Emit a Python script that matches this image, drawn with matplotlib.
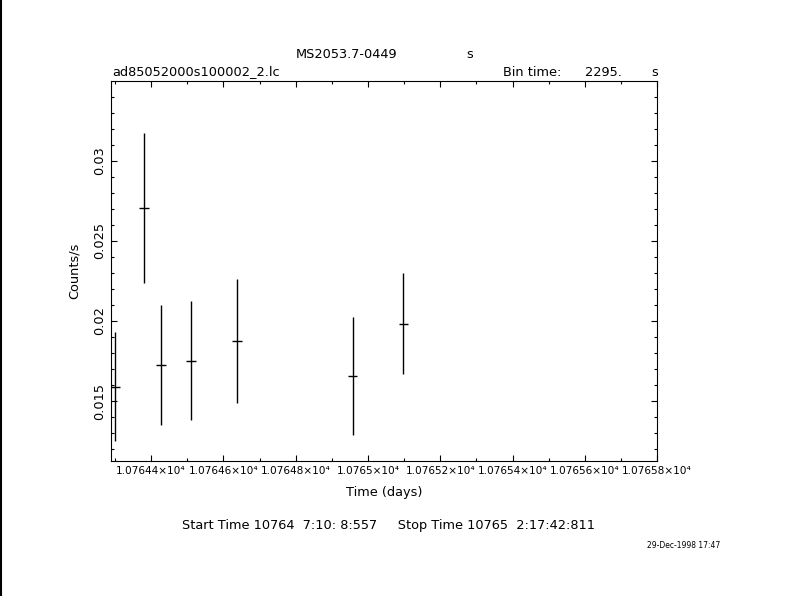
import matplotlib
matplotlib.use("Agg")
import matplotlib.pyplot as plt
from matplotlib.ticker import MultipleLocator, FuncFormatter
from matplotlib.lines import Line2D

# light curve bins (time in days, rate in counts/s)
time_days = [10764.3004, 10764.3795, 10764.4266, 10764.5095, 10764.6368, 10764.9577, 10765.0979]
rate = [0.01590, 0.02703, 0.01726, 0.01753, 0.01876, 0.01658, 0.01983]
rate_err = [0.00341, 0.00468, 0.00372, 0.00369, 0.00385, 0.00366, 0.00316]
bin_time = 2295.0  # seconds
half_bin = [bin_time / 2 / 86400.0] * len(time_days)

plt.rcParams['font.family'] = ['DejaVu Sans']
plt.rcParams['font.size'] = 9.3

fig = plt.figure(figsize=(7.9, 5.96), dpi=100)
ax = fig.add_axes([0.1411, 0.2260, 0.6909, 0.6376])

ax.errorbar(time_days, rate, xerr=half_bin, yerr=rate_err, fmt='none',
            ecolor='black', elinewidth=1.0, capsize=0)

ax.set_xlim(10764.2902, 10765.8005)
ax.set_ylim(0.01125, 0.03495)

ax.xaxis.set_major_locator(MultipleLocator(0.2))
ax.xaxis.set_minor_locator(MultipleLocator(0.1))
ax.yaxis.set_major_locator(MultipleLocator(0.005))
ax.yaxis.set_minor_locator(MultipleLocator(0.001))
ax.xaxis.set_major_formatter(FuncFormatter(lambda v, p: f"{v / 1e4:.7g}×10⁴"))
ax.yaxis.set_major_formatter(FuncFormatter(lambda v, p: f"{v:g}"))

ax.tick_params(which='both', direction='in', top=True, right=True, color='black', width=0.8)
ax.tick_params(which='major', length=4.5)
ax.tick_params(which='minor', length=2.2)
ax.tick_params(axis='x', pad=3.5, labelsize=7.6)
ax.tick_params(axis='y', pad=4, labelsize=9.3)
for lbl in ax.get_yticklabels():
    lbl.set_rotation(90)
    lbl.set_va('center')
for s in ax.spines.values():
    s.set_linewidth(0.8)

ax.set_xlabel('Time (days)', labelpad=7)
ax.set_ylabel('Counts/s', labelpad=9)

# header and footer text
fig.text(347 / 790, 1 - 55 / 596, 'MS2053.7-0449', ha='center', va='center')
fig.text(470 / 790, 1 - 55 / 596, 's', ha='center', va='center')
fig.text(112 / 790, 1 - 72 / 596, 'ad85052000s100002_2.lc', ha='left', va='center')
fig.text(503 / 790, 1 - 72 / 596, 'Bin time:', ha='left', va='center')
fig.text(585 / 790, 1 - 72 / 596, f'{bin_time:.0f}.', ha='left', va='center')
fig.text(651 / 790, 1 - 72 / 596, 's', ha='left', va='center')
fig.text(389 / 790, 1 - 525 / 596,
         'Start Time 10764  7:10: 8:557     Stop Time 10765  2:17:42:811',
         ha='center', va='center')
fig.text(684 / 790, 1 - 545 / 596, '29-Dec-1998 17:47', ha='center', va='center', fontsize=5.5)

fig.add_artist(Line2D([0.001, 0.001], [0, 1], color='black', lw=1.5))

fig.savefig('out.png', dpi=100)
